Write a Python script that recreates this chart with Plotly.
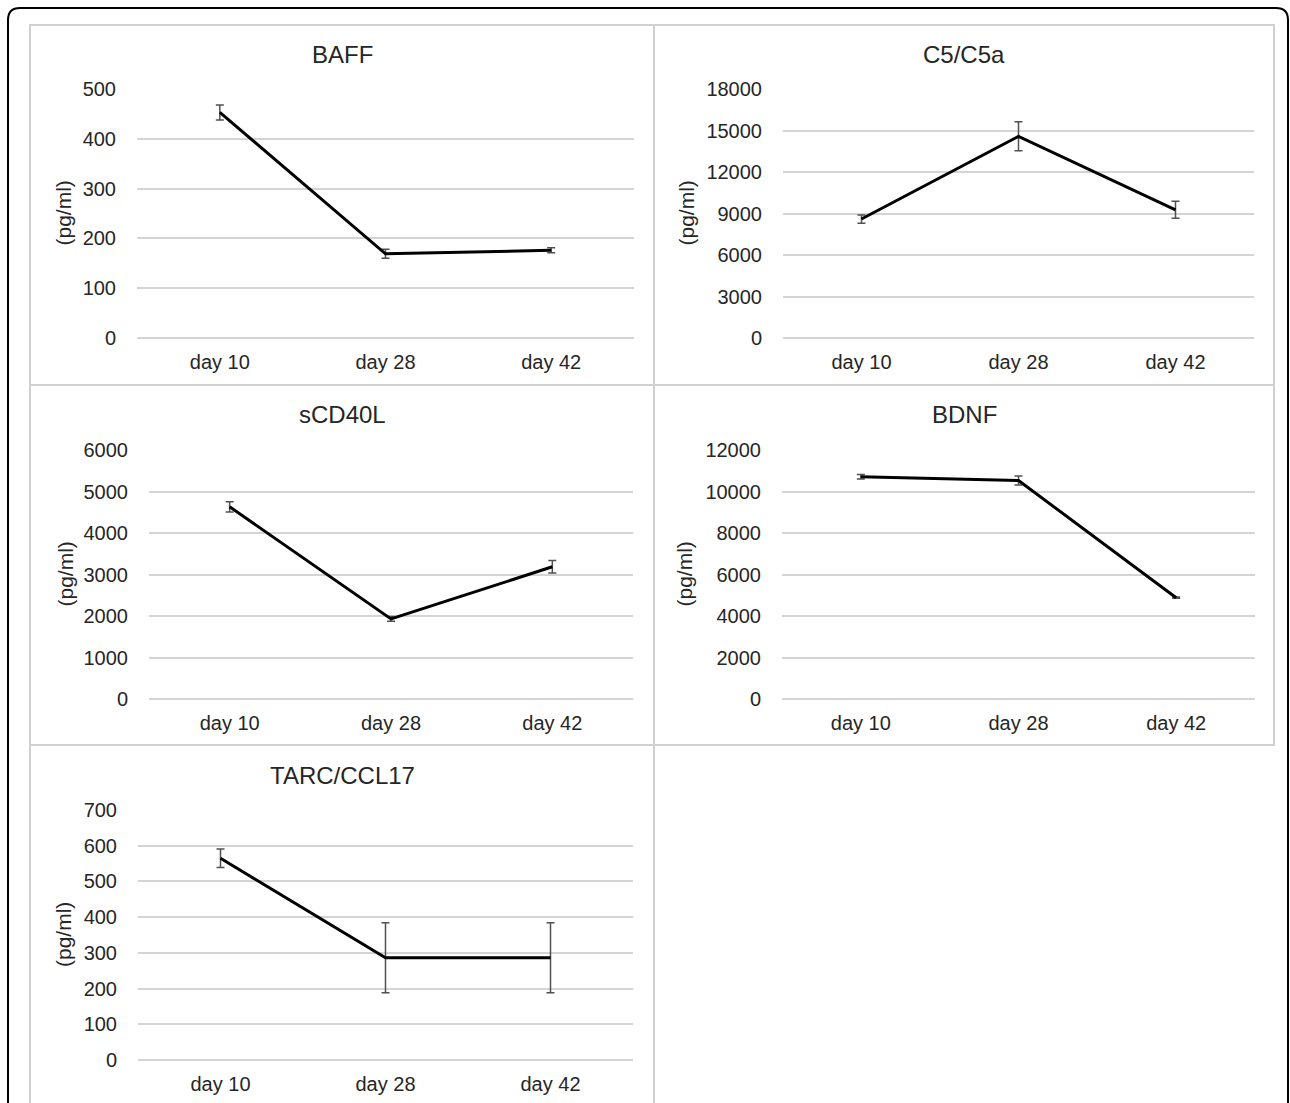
import plotly.graph_objects as go

W, H = 1290, 1103

days = ["day 10", "day 28", "day 42"]

titles = ["BAFF", "C5/C5a", "sCD40L", "BDNF", "TARC/CCL17"]

baff = [453, 169, 176]
baff_err = [15, 9, 5]
c5 = [8600, 14580, 9270]
c5_err = [300, 1050, 620]
scd40l = [4630, 1930, 3186]
scd40l_err = [125, 55, 150]
bdnf = [10710, 10530, 4880]
bdnf_err = [110, 220, 30]
tarc = [565, 286, 286]
tarc_err = [26, 98, 98]

y_max = [500, 18000, 6000, 12000, 700]
y_step = [100, 3000, 1000, 2000, 100]

values = [baff, c5, scd40l, bdnf, tarc]
errors = [baff_err, c5_err, scd40l_err, bdnf_err, tarc_err]

# layout geometry in pixels (plot areas)
plot_x = [(137, 634), (783, 1254), (149, 633), (782, 1255), (138, 633)]
plot_y = [(89, 338), (89, 338), (450, 699), (450, 699), (810, 1060)]
panels = [(30, 25, 654, 385), (654, 25, 1274, 385), (30, 385, 654, 745),
          (654, 385, 1274, 745), (30, 745, 654, 1115)]
title_pos = [(342, 55), (964, 55), (342, 415), (964, 415), (342, 775)]
ytitle_x = [63, 686, 65, 684, 63]


def px(x):
    return x / W


def py(y):
    return 1 - y / H


FONT = "Liberation Sans, Arial, sans-serif"
GRID = "#d4d4d4"
TXT = "#262626"

fig = go.Figure()
layout = dict(
    width=W, height=H,
    margin=dict(l=0, r=0, t=0, b=0, pad=0, autoexpand=False),
    autosize=False,
    paper_bgcolor="white", plot_bgcolor="white", showlegend=False,
    font=dict(family=FONT, color=TXT),
)
annotations = []
shapes = []

for i in range(5):
    n = i + 1
    xa = "x" if n == 1 else f"x{n}"
    ya = "y" if n == 1 else f"y{n}"
    fig.add_trace(go.Scatter(
        x=days, y=values[i], xaxis=xa, yaxis=ya, mode="lines",
        line=dict(color="black", width=3),
        error_y=dict(type="data", array=errors[i], visible=True,
                     color="#505050", thickness=1.5, width=4),
        hoverinfo="skip",
    ))
    x0, x1 = plot_x[i]
    y0, y1 = plot_y[i]
    layout[f"xaxis{'' if n == 1 else n}"] = dict(
        domain=[px(x0), px(x1)], anchor=ya, type="category",
        range=[-0.5, 2.5], showgrid=False, zeroline=False, showline=False,
        ticks="", tickfont=dict(size=20, color=TXT, family=FONT),
        ticklabelstandoff=10, fixedrange=True, automargin=False,
    )
    layout[f"yaxis{'' if n == 1 else n}"] = dict(
        domain=[py(y1), py(y0)], anchor=xa, range=[0, y_max[i]],
        dtick=y_step[i], tick0=0, tickformat="d",
        showgrid=True, gridcolor=GRID,
        gridwidth=1.5, zeroline=True, zerolinecolor=GRID, zerolinewidth=1.5,
        showline=False, ticks="", tickfont=dict(size=20, color=TXT, family=FONT),
        ticklabelstandoff=20, fixedrange=True, automargin=False,
    )
    tx, ty = title_pos[i]
    annotations.append(dict(
        text=titles[i], x=px(tx), y=py(ty), xref="paper", yref="paper",
        showarrow=False, xanchor="center", yanchor="middle",
        font=dict(size=24, color=TXT, family=FONT),
    ))
    annotations.append(dict(
        text="(pg/ml)", x=px(ytitle_x[i]), y=py((y0 + y1) / 2),
        xref="paper", yref="paper", showarrow=False, textangle=-90,
        xanchor="center", yanchor="middle",
        font=dict(size=21, color=TXT, family=FONT),
    ))
    a, b, c, d = panels[i]
    shapes.append(dict(
        type="rect", xref="paper", yref="paper",
        x0=px(a), x1=px(c), y0=py(d), y1=py(b),
        line=dict(color="#d0d0d0", width=2), layer="below",
    ))

# outer rounded frame
L, T, R, B, r = 8, 8, 1288, 1115, 12
path = (f"M {px(L)},{py(B)} L {px(L)},{py(T + r)} "
        f"Q {px(L)},{py(T)} {px(L + r)},{py(T)} "
        f"L {px(R - r)},{py(T)} Q {px(R)},{py(T)} {px(R)},{py(T + r)} "
        f"L {px(R)},{py(B)}")
shapes.append(dict(type="path", path=path, xref="paper", yref="paper",
                   line=dict(color="black", width=2)))

layout["annotations"] = annotations
layout["shapes"] = shapes
fig.update_layout(**layout)

fig.write_html("out.html", config={"displayModeBar": False},
               post_script="document.body.style.margin='0';document.body.style.overflow='hidden';")
